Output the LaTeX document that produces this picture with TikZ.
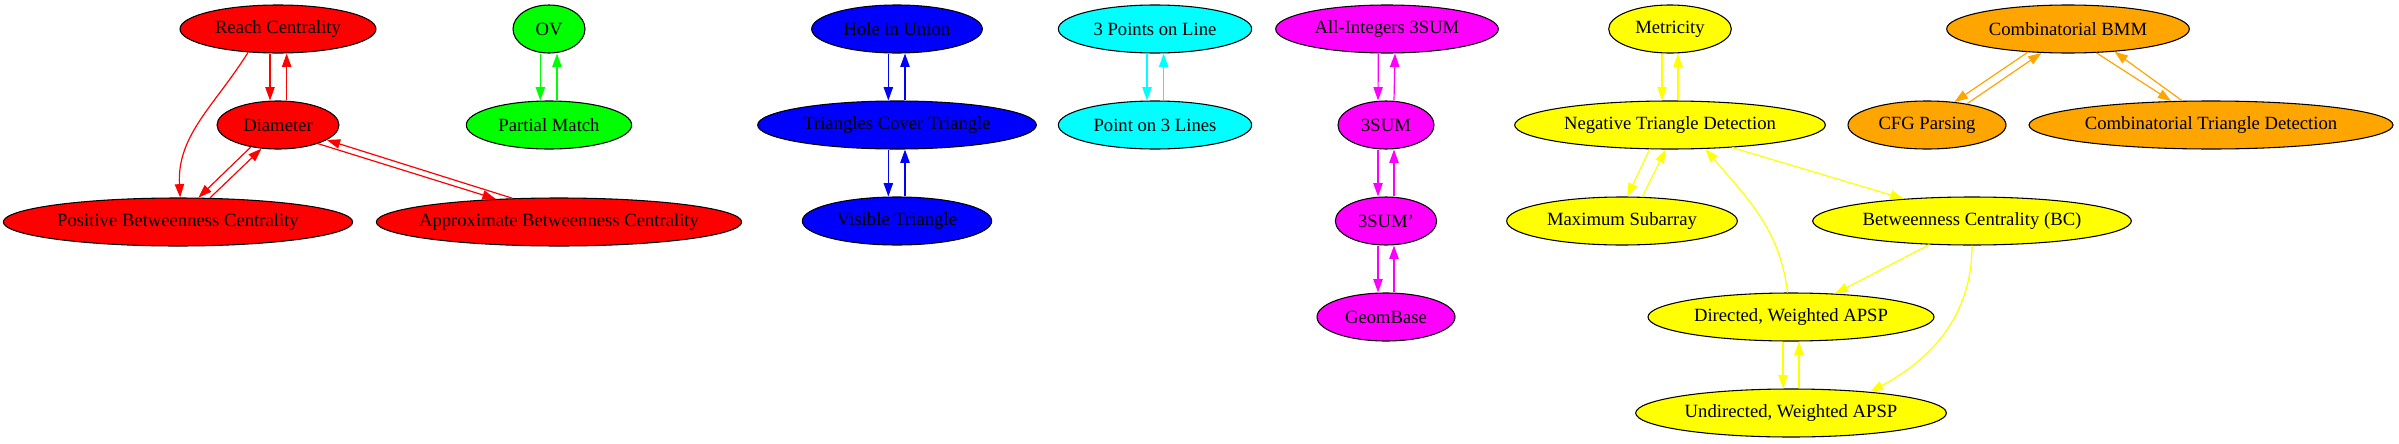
\documentclass[tikz,border=0pt]{standalone}
\usepackage{fontspec}
\setmainfont{Liberation Serif}
\usetikzlibrary{arrows.meta,shapes.geometric}
\definecolor{gvred}{RGB}{255,0,0}
\definecolor{gvgreen}{RGB}{0,255,0}
\definecolor{gvblue}{RGB}{0,0,255}
\definecolor{gvcyan}{RGB}{0,255,255}
\definecolor{gvmagenta}{RGB}{255,0,255}
\definecolor{gvyellow}{RGB}{255,255,0}
\definecolor{gvorange}{RGB}{255,165,0}
\newcommand\nlab[1]{\makebox[0pt]{#1}}
\begin{document}
\begin{tikzpicture}[x=0.75pt,y=-0.75pt,
  nd/.style={ellipse,draw=black,line width=0.8pt,inner sep=0pt,minimum height=36pt,font=\fontsize{14}{16}\selectfont},
  ed/.style={line width=0.9pt,-{Triangle[length=10pt,width=7pt]}}]
\useasboundingbox (0,0) rectangle (2399,443);
% red
\node[nd,fill=gvred,minimum width=147pt] (R) at (278,29) {\nlab{Reach Centrality}};
\node[nd,fill=gvred,minimum width=91.5pt] (D) at (278,125) {\nlab{Diameter}};
\node[nd,fill=gvred,minimum width=262pt] (P) at (178,222) {\nlab{Positive Betweenness Centrality}};
\node[nd,fill=gvred,minimum width=274pt] (A) at (559,222) {\nlab{Approximate Betweenness Centrality}};
% green
\node[nd,fill=gvgreen,minimum width=54pt] (OV) at (549,29) {\nlab{OV}};
\node[nd,fill=gvgreen,minimum width=124pt] (PM) at (549,125) {\nlab{Partial Match}};
% blue
\node[nd,fill=gvblue,minimum width=128pt] (H) at (897,29) {\nlab{Hole in Union}};
\node[nd,fill=gvblue,minimum width=209pt] (T) at (897,125) {\nlab{Triangles Cover Triangle}};
\node[nd,fill=gvblue,minimum width=142pt] (V) at (897,221) {\nlab{Visible Triangle}};
% cyan
\node[nd,fill=gvcyan,minimum width=145pt] (PL) at (1155,29) {\nlab{3 Points on Line}};
\node[nd,fill=gvcyan,minimum width=145pt] (LL) at (1155,125) {\nlab{Point on 3 Lines}};
% magenta
\node[nd,fill=gvmagenta,minimum width=167pt] (AI) at (1387,29) {\nlab{All-Integers 3SUM}};
\node[nd,fill=gvmagenta,minimum width=72pt] (S) at (1386,125) {\nlab{3SUM}};
\node[nd,fill=gvmagenta,minimum width=76pt] (SP) at (1386,221) {\nlab{3SUM'}};
\node[nd,fill=gvmagenta,minimum width=103.5pt] (G) at (1386,317) {\nlab{GeomBase}};
% yellow
\node[nd,fill=gvyellow,minimum width=92pt] (M) at (1670,29) {\nlab{Metricity}};
\node[nd,fill=gvyellow,minimum width=233pt] (N) at (1670,125) {\nlab{Negative Triangle Detection}};
\node[nd,fill=gvyellow,minimum width=173pt] (MS) at (1622,221) {\nlab{Maximum Subarray}};
\node[nd,fill=gvyellow,minimum width=239pt] (BC) at (1972,221) {\nlab{Betweenness Centrality (BC)}};
\node[nd,fill=gvyellow,minimum width=214.5pt] (DA) at (1791,317) {\nlab{Directed, Weighted APSP}};
\node[nd,fill=gvyellow,minimum width=233pt] (UA) at (1791,413) {\nlab{Undirected, Weighted APSP}};
% orange
\node[nd,fill=gvorange,minimum width=182pt] (B) at (2068,29) {\nlab{Combinatorial BMM}};
\node[nd,fill=gvorange,minimum width=118.5pt] (C) at (1927,125) {\nlab{CFG Parsing}};
\node[nd,fill=gvorange,minimum width=273pt] (T2) at (2211,125) {\nlab{Combinatorial Triangle Detection}};
% red edges
\draw[ed,gvred] ([xshift=-6pt]R.south) -- ([xshift=-6pt]D.north);
\draw[ed,gvred] ([xshift=6.5pt]D.north) -- ([xshift=6.5pt]R.south);
\draw[ed,gvred] (R.218) to[out=238,in=93] (P.85);
\draw[ed,gvred] (D.219) -- (P.50);
\draw[ed,gvred] (P.37) -- (D.235);
\draw[ed,gvred] (D.335) -- (A.160);
\draw[ed,gvred] (A.153) -- (D.343);
% green edges
\draw[ed,gvgreen] ([xshift=-6.5pt]OV.south) -- ([xshift=-6.5pt]PM.north);
\draw[ed,gvgreen] ([xshift=6pt]PM.north) -- ([xshift=6pt]OV.south);
% blue edges
\draw[ed,gvblue] ([xshift=-6.5pt]H.south) -- ([xshift=-6.5pt]T.north);
\draw[ed,gvblue] ([xshift=6pt]T.north) -- ([xshift=6pt]H.south);
\draw[ed,gvblue] ([xshift=-6.5pt]T.south) -- ([xshift=-6.5pt]V.north);
\draw[ed,gvblue] ([xshift=6pt]V.north) -- ([xshift=6pt]T.south);
% cyan edges
\draw[ed,gvcyan] ([xshift=-6pt]PL.south) -- ([xshift=-6pt]LL.north);
\draw[ed,gvcyan] ([xshift=6.5pt]LL.north) -- ([xshift=6.5pt]PL.south);
% magenta edges
\draw[ed,gvmagenta] ([xshift=-6.5pt]AI.south) -- ([xshift=-6pt]S.north);
\draw[ed,gvmagenta] ([xshift=6pt]S.north) -- ([xshift=6pt]AI.south);
\draw[ed,gvmagenta] ([xshift=-6pt]S.south) -- ([xshift=-6pt]SP.north);
\draw[ed,gvmagenta] ([xshift=6pt]SP.north) -- ([xshift=6pt]S.south);
\draw[ed,gvmagenta] ([xshift=-6pt]SP.south) -- ([xshift=-6pt]G.north);
\draw[ed,gvmagenta] ([xshift=6pt]G.north) -- ([xshift=6pt]SP.south);
% yellow edges
\draw[ed,gvyellow] ([xshift=-6pt]M.south) -- ([xshift=-6pt]N.north);
\draw[ed,gvyellow] ([xshift=6pt]N.north) -- ([xshift=6pt]M.south);
\draw[ed,gvyellow] (N.230) -- (MS.78);
\draw[ed,gvyellow] (MS.50) -- (N.260);
\draw[ed,gvyellow] (N.340) -- (BC.162);
\draw[ed,gvyellow] (BC.209) -- (DA.28);
\draw[ed,gvyellow] (DA.98) to[out=97,in=-50] (N.326);
\draw[ed,gvyellow] (BC.270) to[out=-90,in=28] (UA.15);
\draw[ed,gvyellow] ([xshift=-6pt]DA.south) -- ([xshift=-6pt]UA.north);
\draw[ed,gvyellow] ([xshift=6pt]UA.north) -- ([xshift=6pt]DA.south);
% orange edges
\draw[ed,gvorange] (B.210) -- (C.40);
\draw[ed,gvorange] (C.28) -- (B.222);
\draw[ed,gvorange] (B.320) -- (T2.149);
\draw[ed,gvorange] (T2.140) -- (B.334);
\end{tikzpicture}
\end{document}
